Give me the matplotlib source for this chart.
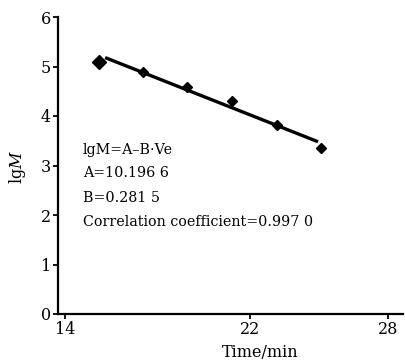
import matplotlib
matplotlib.use("Agg")
import matplotlib.pyplot as plt

# data
time_min = [15.47, 17.39, 19.26, 21.21, 23.16, 25.07]
lg_m = [5.10, 4.88, 4.59, 4.30, 3.82, 3.35]
fit_x = [15.73, 24.95]
fit_y = [5.18, 3.48]
x_ticks = [14, 22, 28]
y_ticks = [0, 1, 2, 3, 4, 5, 6]
eq_lines = ["lgM=A\u2013B\u00b7Ve", "A=10.196 6", "B=0.281 5",
            "Correlation coefficient=0.997 0"]

plt.rcParams['font.family'] = ['DejaVu Serif']
plt.rcParams['mathtext.fontset'] = 'dejavuserif'

fig = plt.figure(figsize=(4.05, 3.62), dpi=100)
ax = fig.add_axes([58/405, 48/362, 345/405, 297/362])

ax.plot(fit_x, fit_y, color='black', lw=2.4, solid_capstyle='butt', zorder=2)
ax.plot(time_min[:1], lg_m[:1], linestyle='none', marker='D', ms=7.5,
        color='black', zorder=3)
ax.plot(time_min[1:], lg_m[1:], linestyle='none', marker='D', ms=5.5,
        color='black', zorder=3)

ax.set_xlim(13.69, 28.63)
ax.set_ylim(0, 6)
ax.set_xticks(x_ticks)
ax.set_yticks(y_ticks)
ax.tick_params(direction='out', length=3.5, width=1.3, labelsize=11.5, pad=1.5)
for s in ['top', 'right']:
    ax.spines[s].set_visible(False)
for s in ['left', 'bottom']:
    ax.spines[s].set_linewidth(1.6)

ax.set_xlabel('Time/min', fontsize=11.5)
ax.xaxis.set_label_coords(0.586, -0.1)
ax.set_ylabel('lg$M$', fontsize=11.5)
ax.yaxis.set_label_coords(-0.087, 0.495)

ys = [0.552, 0.475, 0.391, 0.310]
for t, y in zip(eq_lines, ys):
    ax.text(0.0725, y, t, transform=ax.transAxes, fontsize=10.3,
            va='center', ha='left')

fig.savefig('out.png', dpi=100)
